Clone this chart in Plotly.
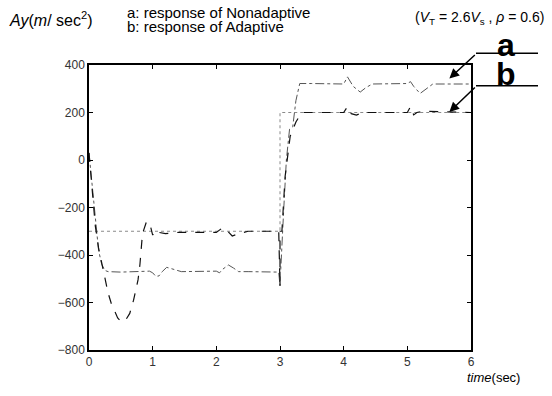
import plotly.graph_objects as go

# reference command (dotted)
ref_t = [0, 3.0, 3.0, 6.0]
ref_v = [-300, -300, 200, 200]

# a: response of Nonadaptive
a_t = [0, 0.05, 0.1, 0.15, 0.2, 0.25, 0.3, 0.5, 0.95, 1.0, 1.05, 1.1, 1.15, 1.22, 1.3, 1.45,
       2.0, 2.05, 2.1, 2.19, 2.27, 2.35, 2.5, 2.98, 3.0, 3.0, 3.01, 3.06, 3.1, 3.15, 3.2,
       3.25, 3.31, 3.5, 4.0, 4.06, 4.15, 4.26, 4.35, 4.45, 5.0, 5.05, 5.1, 5.2, 5.3, 5.4, 6.0]
a_v = [30, -100, -250, -380, -440, -465, -470, -472, -468, -475, -490, -488, -470, -452, -458, -470,
       -468, -475, -460, -442, -455, -470, -470, -472, -530, -470, -470, -200, 0, 130, 140,
       250, 322, 322, 320, 350, 310, 286, 305, 320, 322, 330, 310, 280, 300, 320, 320]

# b: response of Adaptive
b_t = [0, 0.05, 0.1, 0.15, 0.22, 0.3, 0.35, 0.45, 0.51, 0.58, 0.64, 0.7, 0.77, 0.8, 0.84, 0.9,
       0.95, 1.0, 1.05, 1.1, 1.2, 1.4, 2.0, 2.1, 2.18, 2.25, 2.35, 2.5, 2.98, 3.0, 3.0, 3.03,
       3.08, 3.16, 3.25, 3.34, 3.8, 4.0, 4.06, 4.12, 4.2, 4.3, 5.0, 5.05, 5.1, 5.15, 5.25, 6.0]
b_v = [30, -130, -280, -370, -463, -560, -604, -665, -682, -672, -646, -590, -505, -440, -310, -262,
       -262, -316, -295, -305, -310, -305, -305, -285, -300, -320, -310, -300, -300, -530, -300, -300,
       -70, 100, 160, 200, 200, 200, 225, 195, 189, 200, 200, 225, 190, 200, 205, 200]

x_ticks = [0, 1, 2, 3, 4, 5, 6]
y_ticks = [-800, -600, -400, -200, 0, 200, 400]

fig = go.Figure()
fig.add_trace(go.Scatter(x=ref_t, y=ref_v, mode="lines",
                         line=dict(color="#8a8a8a", width=1, dash="dot")))
fig.add_trace(go.Scatter(x=a_t, y=a_v, mode="lines",
                         line=dict(color="#555555", width=1, dash="dashdot")))
fig.add_trace(go.Scatter(x=b_t, y=b_v, mode="lines",
                         line=dict(color="#111111", width=1.2, dash="dash")))

FONT = "Liberation Sans, Arial, sans-serif"
axis_common = dict(showline=True, linecolor="black", linewidth=1.5, mirror="allticks",
                   ticks="inside", ticklen=4, tickcolor="black", showgrid=False, zeroline=False,
                   tickfont=dict(family=FONT, size=12, color="#333"))
fig.update_xaxes(range=[0, 6], tickvals=x_ticks, **axis_common)
fig.update_yaxes(range=[-800, 400], tickvals=y_ticks, **axis_common)

fig.update_layout(
    width=552, height=396, margin=dict(l=89, r=81, t=65, b=46),
    paper_bgcolor="white", plot_bgcolor="white", showlegend=False,
    font=dict(family=FONT, color="black"),
)

def px(xp):
    return (xp - 89) / 382.0

def py(yp):
    return (350 - yp) / 285.0

annotations = [
    dict(text="<i>Ay</i>(<i>m</i>/ sec<sup>2</sup>)", x=px(7), y=py(19), xanchor="left", yanchor="middle",
         font=dict(size=16)),
    dict(text="a: response of Nonadaptive", x=px(125), y=py(12), xanchor="left", yanchor="middle",
         font=dict(size=15)),
    dict(text="b: response of Adaptive", x=px(125), y=py(26), xanchor="left", yanchor="middle",
         font=dict(size=15)),
    dict(text="(<i>V</i><sub>T</sub> = 2.6<i>V</i><sub>s</sub> , <i>ρ</i> = 0.6)", x=px(546), y=py(18),
         xanchor="right", yanchor="middle", font=dict(size=14)),
    dict(text="<i>time</i>(sec)", x=px(522), y=py(377), xanchor="right", yanchor="middle",
         font=dict(size=13)),
    dict(text="<b>a</b>", x=px(506), y=py(45), xanchor="center", yanchor="middle",
         font=dict(size=32)),
    dict(text="<b>b</b>", x=px(506), y=py(74), xanchor="center", yanchor="middle",
         font=dict(size=32)),
]
for a in annotations:
    a.update(xref="paper", yref="paper", showarrow=False)

# arrows
annotations.append(dict(x=5.66, y=343, xref="x", yref="y", ax=27, ay=-25, text="",
                        showarrow=True, arrowhead=2, arrowsize=1.3, arrowwidth=1.5, arrowcolor="black"))
annotations.append(dict(x=5.66, y=202, xref="x", yref="y", ax=27, ay=-26, text="",
                        showarrow=True, arrowhead=2, arrowsize=1.3, arrowwidth=1.5, arrowcolor="black"))
fig.update_layout(annotations=annotations)

fig.add_shape(type="line", xref="paper", yref="paper", x0=px(476), x1=px(538), y0=py(53.3), y1=py(53.3),
              line=dict(color="black", width=1.5))
fig.add_shape(type="line", xref="paper", yref="paper", x0=px(476), x1=px(538), y0=py(85.7), y1=py(85.7),
              line=dict(color="black", width=1.5))

fig.write_html("out.html")
